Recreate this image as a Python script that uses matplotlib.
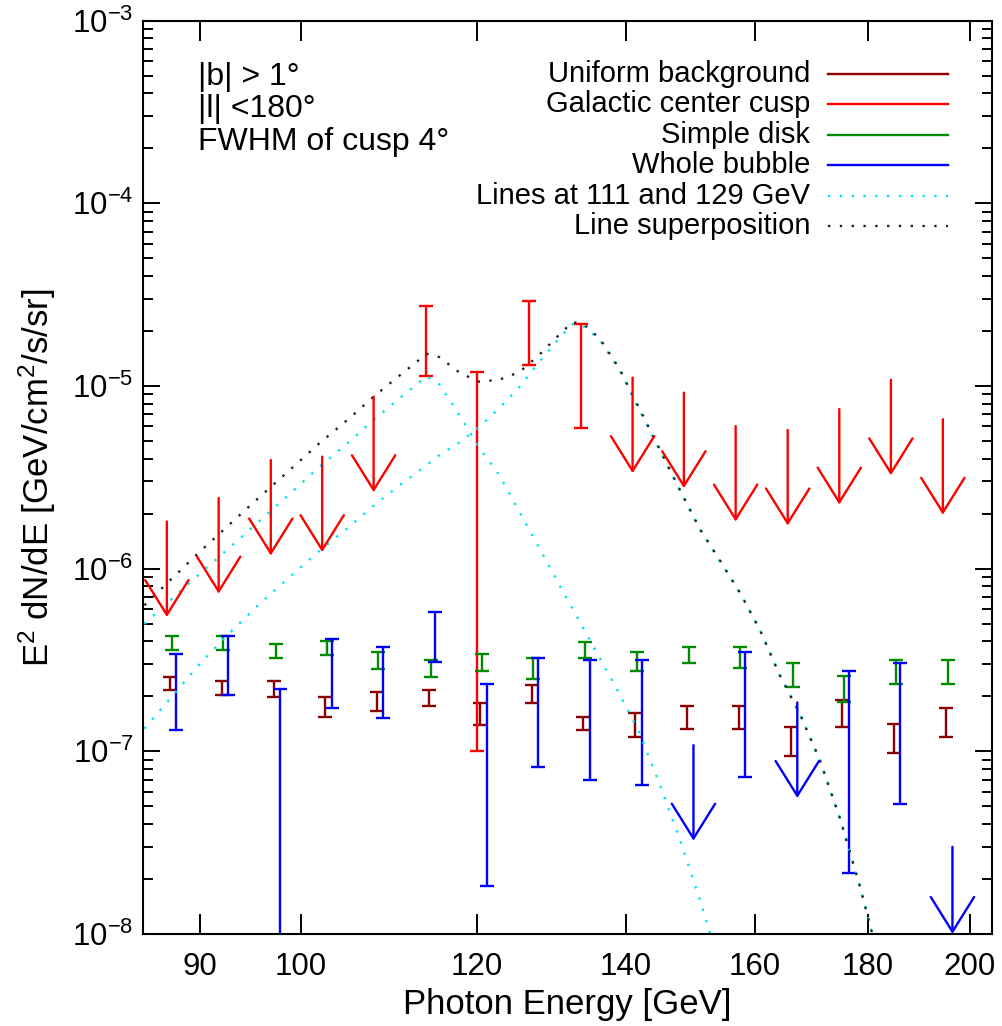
import numpy as np
import matplotlib
matplotlib.use('Agg')
import matplotlib.pyplot as plt
from matplotlib.lines import Line2D
from matplotlib.ticker import (FixedLocator, FixedFormatter, LogLocator,
                               NullFormatter, NullLocator)

plt.rcParams['font.family'] = ['Liberation Sans', 'DejaVu Sans']
plt.rcParams['mathtext.fontset'] = 'custom'
plt.rcParams['mathtext.rm'] = 'Liberation Sans'
plt.rcParams['mathtext.it'] = 'Liberation Sans:italic'

# energy bins [GeV]
energy = [87.0, 91.8, 96.9, 102.2, 107.8, 113.8, 120.0, 126.6,
          133.6, 141.0, 148.7, 156.9, 165.6, 174.7, 184.3, 194.5]

# lower / upper ends of each bar; lower = 0 marks an upper limit at "upper"
bkg_lo = [2.17e-7, 2.03e-7, 1.97e-7, 1.55e-7, 1.66e-7, 1.77e-7, 1.39e-7, 1.83e-7,
          1.30e-7, 1.19e-7, 1.32e-7, 1.32e-7, 9.43e-8, 1.36e-7, 9.75e-8, 1.20e-7]
bkg_hi = [2.56e-7, 2.43e-7, 2.42e-7, 1.97e-7, 2.10e-7, 2.17e-7, 1.83e-7, 2.31e-7,
          1.55e-7, 1.61e-7, 1.77e-7, 1.77e-7, 1.36e-7, 1.91e-7, 1.41e-7, 1.72e-7]

cusp_lo = [0, 0, 0, 0, 0, 1.14e-5, 1.0e-7, 1.30e-5,
           5.91e-6, 0, 0, 0, 0, 0, 0, 0]
cusp_hi = [1.81e-6, 2.43e-6, 3.93e-6, 4.10e-6, 8.73e-6, 2.75e-5, 1.19e-5, 2.93e-5,
           2.18e-5, 1.11e-5, 9.18e-6, 6.03e-6, 5.74e-6, 7.47e-6, 1.08e-5, 6.57e-6]

disk_lo = [3.58e-7, 3.58e-7, 3.25e-7, 3.37e-7, 2.82e-7, 2.56e-7, 2.75e-7, 2.48e-7,
           3.23e-7, 2.75e-7, 3.03e-7, 2.85e-7, 2.24e-7, 1.85e-7, 2.33e-7, 2.33e-7]
disk_hi = [4.28e-7, 4.28e-7, 3.87e-7, 4.02e-7, 3.51e-7, 3.14e-7, 3.40e-7, 3.23e-7,
           3.98e-7, 3.51e-7, 3.74e-7, 3.74e-7, 3.05e-7, 2.58e-7, 3.14e-7, 3.14e-7]

bubble_lo = [1.30e-7, 2.03e-7, 5.0e-9, 1.73e-7, 1.52e-7, 3.07e-7, 1.83e-8, 8.24e-8,
             6.97e-8, 6.54e-8, 0, 7.21e-8, 0, 2.15e-8, 5.15e-8, 0]
bubble_hi = [3.40e-7, 4.28e-7, 2.18e-7, 4.10e-7, 3.74e-7, 5.76e-7, 2.34e-7, 3.25e-7,
             3.16e-7, 3.14e-7, 1.08e-7, 3.48e-7, 1.85e-7, 2.75e-7, 3.05e-7, 3.0e-8]

# line templates at 111 and 129 GeV
curve_energy = [85.0, 87.25, 90.0, 92.83, 95.76, 98.81, 101.9, 105.2, 107.9, 110.8,
                112.5, 113.9, 115.4, 117.9, 120.3, 122.8, 125.4, 128.0, 130.7, 132.5,
                134.2, 136.3, 139.1, 142.0, 145.0, 148.1, 151.2, 154.3, 157.6, 160.9,
                164.2, 167.7, 171.2, 174.8, 178.5, 181.3, 184.1]
line_111 = [4.97e-7, 6.65e-7, 9.34e-7, 1.30e-6, 1.82e-6, 2.56e-6, 3.60e-6, 4.99e-6,
            6.59e-6, 8.59e-6, 9.99e-6, 1.13e-5, 1.02e-5, 6.84e-6, 4.57e-6, 3.25e-6,
            2.04e-6, 1.30e-6, 8.13e-7, 6.01e-7, 4.55e-7, 3.24e-7, 2.06e-7, 1.26e-7,
            6.62e-8, 3.27e-8, 1.54e-8, 6.8e-9, 3.0e-9, 1.3e-9, 5.8e-10, 2.6e-10,
            1.1e-10, 5.0e-11, 2.2e-11, 1.2e-11, 6.0e-12]
line_129 = [1.33e-7, 1.93e-7, 3.00e-7, 4.44e-7, 6.40e-7, 8.99e-7, 1.25e-6, 1.71e-6,
            2.23e-6, 2.87e-6, 3.29e-6, 3.69e-6, 4.18e-6, 4.93e-6, 5.96e-6, 7.57e-6,
            9.86e-6, 1.35e-5, 1.83e-5, 2.18e-5, 2.10e-5, 1.78e-5, 1.22e-5, 7.38e-6,
            4.46e-6, 2.66e-6, 1.63e-6, 1.11e-6, 7.35e-7, 4.61e-7, 2.62e-7, 1.60e-7,
            8.96e-8, 4.31e-8, 1.81e-8, 8.71e-9, 3.84e-9]

labels = ['Uniform background', 'Galactic center cusp', 'Simple disk',
          'Whole bubble', 'Lines at 111 and 129 GeV', 'Line superposition']
colors = ['#8b0000', '#ff0000', '#008c00', '#0000ff', '#00e5ee', '#222222']

xticks = [90, 100, 120, 140, 160, 180, 200]
ymin, ymax = 1e-8, 1e-3

fig = plt.figure(figsize=(10.02, 10.26), dpi=100)
ax = fig.add_axes([0.1430, 0.0897, 0.8467, 0.8903])
ax.set_xscale('log')
ax.set_yscale('log')


def draw_points(lo, hi, color, shift):
    e = np.array(energy) * shift
    lo = np.array(lo)
    hi = np.array(hi)
    ok = lo > 0
    mid = np.sqrt(lo[ok] * hi[ok])
    ax.errorbar(e[ok], mid, yerr=[mid - lo[ok], hi[ok] - mid], fmt='none',
                ecolor=color, elinewidth=1.7, capsize=4.8, capthick=1.7)
    # upper limits: arrow from the limit down to 0.3 of it
    for x, ul in zip(e[~ok], hi[~ok]):
        ax.annotate('', xy=(x, max(ul * 0.3, ymin)), xytext=(x, ul),
                    arrowprops=dict(arrowstyle='->,head_length=25,head_width=15.6',
                                    mutation_scale=1, lw=1.7, color=color,
                                    shrinkA=0, shrinkB=0))


draw_points(bkg_lo, bkg_hi, colors[0], 1.003)
draw_points(cusp_lo, cusp_hi, colors[1], 1.0)
draw_points(disk_lo, disk_hi, colors[2], 1.005)
draw_points(bubble_lo, bubble_hi, colors[3], 1.010)

dots = (0, (1, 4))
ax.plot(curve_energy, line_111, color=colors[4], ls=dots, lw=1.7)
ax.plot(curve_energy, line_129, color=colors[4], ls=dots, lw=1.7)
ax.plot(curve_energy, np.add(line_111, line_129), color=colors[5], ls=dots, lw=1.7)

ax.set_xlim(84.9, 204.6)
ax.set_ylim(ymin, ymax)

ax.xaxis.set_major_locator(FixedLocator(xticks))
ax.xaxis.set_major_formatter(FixedFormatter([str(t) for t in xticks]))
ax.xaxis.set_minor_locator(NullLocator())
ax.yaxis.set_major_locator(LogLocator(base=10, numticks=10))
ax.yaxis.set_minor_locator(LogLocator(base=10, subs=np.arange(2, 10), numticks=100))
ax.yaxis.set_minor_formatter(NullFormatter())

ax.tick_params(which='both', direction='in', top=True, right=True, width=1.4,
               labelsize=22.5)
ax.tick_params(axis='x', which='major', length=14.4, pad=13)
ax.tick_params(axis='y', which='major', length=12.5, pad=7)
ax.tick_params(axis='y', which='minor', length=7)
for s in ax.spines.values():
    s.set_linewidth(1.5)

ax.set_xlabel('Photon Energy [GeV]', fontsize=25, labelpad=4)
ax.set_ylabel(r'E$^2$ dN/dE [GeV/cm$^2$/s/sr]', fontsize=25, labelpad=10)

# region / cusp notes
for i, note in enumerate(['|b| > 1°', '|l| <180°', 'FWHM of cusp 4°']):
    fig.text(198 / 1002, 1 - (77 + 32.5 * i) / 1026, note, fontsize=23,
             ha='left', va='center')

# key, right aligned text with line samples
for i, (lab, c) in enumerate(zip(labels, colors)):
    yy = 1 - (74 + 30.4 * i) / 1026
    fig.text(810 / 1002, yy, lab, fontsize=21, ha='right', va='center')
    ls = '-' if i < 4 else dots
    fig.add_artist(Line2D([828 / 1002, 948 / 1002], [yy, yy], color=c,
                          lw=1.7, ls=ls, transform=fig.transFigure))

fig.savefig('out.png', dpi=100)
